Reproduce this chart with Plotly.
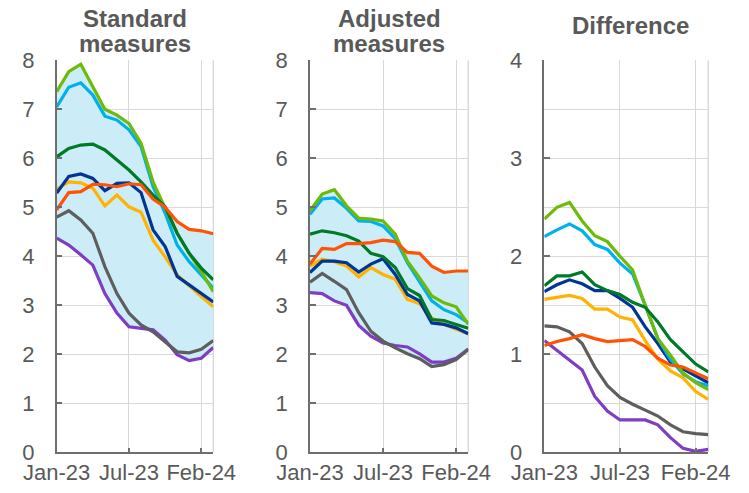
import numpy as np
import plotly.graph_objects as go

months = ["Jan-23", "Feb-23", "Mar-23", "Apr-23", "May-23", "Jun-23", "Jul-23",
          "Aug-23", "Sep-23", "Oct-23", "Nov-23", "Dec-23", "Jan-24", "Feb-24"]
tick_idx = [0, 6, 12]
tick_text = ["Jan-23", "Jul-23", "Feb-24"]

panel_titles = ["Standard<br>measures", "Adjusted<br>measures", "Difference"]

# Panel 1: standard measures
std_lime = [7.36, 7.77, 7.92, 7.45, 7.0, 6.88, 6.71, 6.31, 5.52, 4.98, 4.47, 4.06, 3.69, 3.28]
std_cyan = [7.05, 7.45, 7.54, 7.29, 6.86, 6.78, 6.58, 6.24, 5.42, 4.88, 4.23, 3.89, 3.62, 3.35]
std_dgreen = [6.03, 6.2, 6.27, 6.29, 6.17, 5.97, 5.76, 5.52, 5.25, 5.01, 4.47, 4.06, 3.76, 3.52]
std_navy = [5.29, 5.63, 5.68, 5.59, 5.34, 5.49, 5.5, 5.3, 4.54, 4.2, 3.59, 3.41, 3.24, 3.07]
std_yellow = [5.37, 5.52, 5.5, 5.39, 5.03, 5.25, 5.01, 4.9, 4.33, 3.99, 3.62, 3.39, 3.18, 2.97]
std_red = [4.95, 5.3, 5.32, 5.47, 5.46, 5.42, 5.48, 5.46, 5.17, 5.0, 4.71, 4.55, 4.52, 4.46]
std_gray = [4.8, 4.93, 4.74, 4.47, 3.79, 3.24, 2.84, 2.6, 2.46, 2.26, 2.05, 2.03, 2.1, 2.28]
std_purple = [4.37, 4.23, 4.03, 3.82, 3.24, 2.84, 2.56, 2.53, 2.5, 2.29, 1.99, 1.87, 1.92, 2.14]

# Panel 2: adjusted measures
adj_lime = [4.93, 5.27, 5.36, 5.03, 4.78, 4.76, 4.72, 4.45, 3.9, 3.56, 3.19, 3.05, 2.97, 2.61]
adj_cyan = [4.86, 5.17, 5.19, 4.98, 4.72, 4.71, 4.62, 4.36, 3.87, 3.49, 3.09, 2.91, 2.81, 2.64]
adj_dgreen = [4.45, 4.52, 4.48, 4.42, 4.31, 4.06, 3.99, 3.77, 3.34, 3.2, 2.71, 2.69, 2.61, 2.53]
adj_navy = [3.67, 3.9, 3.9, 3.87, 3.68, 3.84, 3.95, 3.63, 3.22, 3.09, 2.64, 2.61, 2.54, 2.42]
adj_yellow = [3.8, 3.94, 3.89, 3.8, 3.58, 3.77, 3.63, 3.53, 3.12, 3.03, 2.74, 2.61, 2.51, 2.42]
adj_red = [3.84, 4.16, 4.14, 4.26, 4.26, 4.28, 4.33, 4.3, 4.08, 4.06, 3.8, 3.67, 3.7, 3.7]
adj_gray = [3.47, 3.65, 3.49, 3.32, 2.85, 2.47, 2.27, 2.13, 2.01, 1.91, 1.75, 1.79, 1.89, 2.1]
adj_purple = [3.26, 3.24, 3.09, 3.0, 2.59, 2.37, 2.23, 2.18, 2.15, 2.01, 1.84, 1.84, 1.92, 2.11]

# Panel 3: difference
dif_lime = [2.38, 2.5, 2.55, 2.36, 2.21, 2.15, 2.0, 1.86, 1.5, 1.16, 0.99, 0.81, 0.71, 0.64]
dif_cyan = [2.2, 2.27, 2.33, 2.26, 2.12, 2.07, 1.93, 1.82, 1.5, 1.16, 0.95, 0.8, 0.72, 0.68]
dif_dgreen = [1.7, 1.8, 1.8, 1.84, 1.71, 1.65, 1.61, 1.53, 1.48, 1.33, 1.15, 1.02, 0.9, 0.82]
dif_navy = [1.64, 1.71, 1.76, 1.72, 1.65, 1.65, 1.57, 1.48, 1.28, 1.11, 0.92, 0.85, 0.78, 0.71]
dif_yellow = [1.56, 1.58, 1.6, 1.57, 1.46, 1.46, 1.38, 1.35, 1.14, 0.95, 0.83, 0.76, 0.62, 0.54]
dif_red = [1.09, 1.13, 1.16, 1.2, 1.16, 1.13, 1.14, 1.15, 1.08, 0.96, 0.89, 0.87, 0.81, 0.75]
dif_gray = [1.29, 1.28, 1.23, 1.11, 0.87, 0.68, 0.56, 0.49, 0.43, 0.37, 0.28, 0.21, 0.19, 0.18]
dif_purple = [1.14, 1.04, 0.95, 0.84, 0.57, 0.42, 0.33, 0.33, 0.33, 0.28, 0.15, 0.04, 0.01, 0.03]

series_names = ["purple", "gray", "yellow", "navy", "cyan", "lime", "dgreen", "red"]
colors = {
    "lime": "#6CBB06",
    "cyan": "#00B0EE",
    "dgreen": "#007A26",
    "navy": "#003594",
    "yellow": "#FFB300",
    "red": "#FF5204",
    "gray": "#5E5E5E",
    "purple": "#7E3DC3",
}

panels = [
    {"lime": std_lime, "cyan": std_cyan, "dgreen": std_dgreen, "navy": std_navy,
     "yellow": std_yellow, "red": std_red, "gray": std_gray, "purple": std_purple},
    {"lime": adj_lime, "cyan": adj_cyan, "dgreen": adj_dgreen, "navy": adj_navy,
     "yellow": adj_yellow, "red": adj_red, "gray": adj_gray, "purple": adj_purple},
    {"lime": dif_lime, "cyan": dif_cyan, "dgreen": dif_dgreen, "navy": dif_navy,
     "yellow": dif_yellow, "red": dif_red, "gray": dif_gray, "purple": dif_purple},
]
show_band = [True, True, False]
y_max = [8, 8, 4]

# page body has an 8px margin: figure is placed at (8, 8) in the window
OFF = 8
W, H = 749 - 2 * OFF, 493 - 2 * OFF
x_dom_px = [(56.7 - OFF, 213.3 - OFF), (310.0 - OFF, 468.3 - OFF), (544.3 - OFF, 708.3 - OFF)]
y_dom_px = (60.3 - OFF, 452.3 - OFF)

FONT = "Liberation Sans, Arial, sans-serif"
TXT = "#595959"
GRID = "#D9D9D9"

x = np.arange(len(months))
fig = go.Figure()

for p, data in enumerate(panels):
    xa = "x" if p == 0 else f"x{p+1}"
    ya = "y" if p == 0 else f"y{p+1}"
    if show_band[p]:
        arr = np.array([data[k] for k in series_names])
        fig.add_trace(go.Scatter(x=x, y=arr.max(axis=0), mode="lines",
                                 line=dict(width=0), xaxis=xa, yaxis=ya,
                                 showlegend=False, hoverinfo="skip"))
        fig.add_trace(go.Scatter(x=x, y=arr.min(axis=0), mode="lines",
                                 line=dict(width=0), fill="tonexty",
                                 fillcolor="#CCEDF8", xaxis=xa, yaxis=ya,
                                 showlegend=False, hoverinfo="skip"))
    for name in series_names:
        fig.add_trace(go.Scatter(x=x, y=data[name], mode="lines", name=name,
                                 line=dict(color=colors[name], width=3.2),
                                 xaxis=xa, yaxis=ya, showlegend=False))

layout = dict(
    width=W, height=H, margin=dict(l=0, r=0, t=0, b=0, autoexpand=False),
    paper_bgcolor="white", plot_bgcolor="white",
    font=dict(family=FONT, color=TXT, size=22),
    showlegend=False,
)
for p in range(3):
    xk = "xaxis" if p == 0 else f"xaxis{p+1}"
    yk = "yaxis" if p == 0 else f"yaxis{p+1}"
    x0, x1 = x_dom_px[p]
    layout[xk] = dict(
        domain=[x0 / W, x1 / W], range=[0, len(months) - 1],
        anchor="y" if p == 0 else f"y{p+1}",
        tickvals=tick_idx, ticktext=tick_text, tickangle=0,
        showgrid=True, gridcolor=GRID, gridwidth=1,
        showline=True, linecolor="#6E6E6E", linewidth=1.5,
        ticks="inside", ticklen=5, tickcolor="#6E6E6E", tickwidth=1.5,
        ticklabelstandoff=0, zeroline=False, automargin=False,
        tickfont=dict(size=22, color=TXT, family=FONT), fixedrange=True,
    )
    yd = dict(
        domain=[1 - y_dom_px[1] / H, 1 - y_dom_px[0] / H],
        range=[0, y_max[p]], dtick=1, tick0=0,
        anchor="x" if p == 0 else f"x{p+1}",
        showgrid=True, gridcolor=GRID, gridwidth=1,
        showline=True, linecolor="#6E6E6E", linewidth=1.5,
        ticks="inside", ticklen=6, tickcolor="#6E6E6E", tickwidth=1.5,
        ticklabelstandoff=16, zeroline=False, automargin=False,
        tickfont=dict(size=22, color=TXT, family=FONT), fixedrange=True,
    )
    if p == 2:
        yd["minor"] = dict(dtick=0.5, showgrid=True, gridcolor=GRID, gridwidth=1)
    layout[yk] = yd

fig.update_layout(**layout)

# right-edge light border of each panel
for p in range(3):
    xr = "x domain" if p == 0 else f"x{p+1} domain"
    yr = "y" if p == 0 else f"y{p+1}"
    fig.add_shape(type="line", xref=xr, yref=yr, x0=1, x1=1, y0=0, y1=y_max[p],
                  line=dict(color=GRID, width=1.5), layer="below")

# panel titles
title_lines = [t.split("<br>") for t in panel_titles]
for p, lines in enumerate(title_lines):
    cx = (x_dom_px[p][0] + x_dom_px[p][1]) / 2 / W
    if len(lines) == 2:
        ys = [18.5 - OFF, 43.5 - OFF]
    else:
        ys = [26 - OFF]
    if p == 2:
        cx += 4 / W
    for line, yc in zip(lines, ys):
        fig.add_annotation(text=f"<b>{line}</b>", x=cx, y=1 - yc / H,
                           xref="paper", yref="paper", showarrow=False,
                           xanchor="center", yanchor="middle",
                           font=dict(size=24, color=TXT, family=FONT))

fig.write_html("out.html")
